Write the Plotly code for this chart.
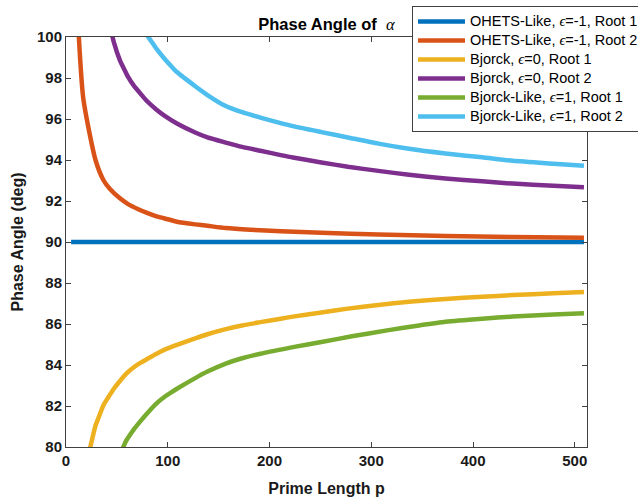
import plotly.graph_objects as go

# ---- data ----
p_ohets_r1 = [5, 509]
y_ohets_r1 = [90.0, 90.0]

p_ohets_r2 = [11, 17, 29, 37, 43, 53, 61, 71, 79, 89, 101, 109, 127, 139, 157,
              181, 211, 251, 307, 373, 439, 509]
y_ohets_r2 = [101.5, 97.0, 94.0, 93.0, 92.6, 92.13, 91.85, 91.6, 91.43, 91.25,
              91.1, 90.99, 90.86, 90.79, 90.68, 90.6, 90.53, 90.45, 90.37,
              90.29, 90.24, 90.21]

p_bjorck_r1 = [23, 29, 31, 37, 41, 47, 53, 59, 67, 73, 79, 89, 97, 109, 127,
               139, 157, 173, 191, 211, 223, 251, 277, 307, 337, 373, 409, 439,
               479, 509]
y_bjorck_r1 = [79.8, 81.05, 81.3, 82.06, 82.38, 82.84, 83.22, 83.57, 83.9,
               84.1, 84.27, 84.55, 84.75, 84.98, 85.3, 85.5, 85.75, 85.93,
               86.09, 86.26, 86.36, 86.56, 86.75, 86.93, 87.08, 87.22, 87.33,
               87.41, 87.5, 87.56]

p_bjorck_r2 = [43, 47, 53, 59, 61, 67, 73, 79, 89, 97, 109, 127, 139, 157, 173,
               191, 211, 223, 251, 277, 307, 337, 373, 409, 439, 479, 509]
y_bjorck_r2 = [100.6, 99.75, 98.86, 98.25, 98.05, 97.6, 97.25, 96.9, 96.45,
               96.15, 95.78, 95.34, 95.1, 94.85, 94.64, 94.45, 94.24, 94.12,
               93.88, 93.67, 93.47, 93.28, 93.1, 92.96, 92.85, 92.74, 92.67]

p_like_r1 = [53, 59, 61, 67, 73, 79, 83, 89, 97, 103, 109, 127, 139, 157, 173,
             191, 211, 223, 251, 281, 317, 347, 373, 409, 439, 479, 509]
y_like_r1 = [79.6, 80.3, 80.45, 80.88, 81.25, 81.6, 81.82, 82.13, 82.45,
             82.65, 82.84, 83.36, 83.68, 84.07, 84.33, 84.55, 84.75, 84.87,
             85.12, 85.4, 85.7, 85.93, 86.11, 86.26, 86.36, 86.46, 86.52]

p_like_r2 = [79, 83, 89, 97, 103, 109, 127, 139, 157, 173, 191, 211, 223, 251,
             277, 307, 337, 373, 409, 439, 479, 509]
y_like_r2 = [100.13, 99.85, 99.42, 98.93, 98.6, 98.29, 97.6, 97.17, 96.63,
             96.33, 96.07, 95.8, 95.65, 95.36, 95.1, 94.8, 94.55, 94.32,
             94.13, 93.96, 93.82, 93.72]

eps = '<span style="font-family:Liberation Serif"><i>ϵ</i></span>'
labels = [
    f"OHETS-Like, {eps}=-1, Root 1",
    f"OHETS-Like, {eps}=-1, Root 2",
    f"Bjorck, {eps}=0, Root 1",
    f"Bjorck, {eps}=0, Root 2",
    f"Bjorck-Like, {eps}=1, Root 1",
    f"Bjorck-Like, {eps}=1, Root 2",
]
names = [f'<span style="font-size:14.5px">{t}</span>' for t in labels]
xs = [p_ohets_r1, p_ohets_r2, p_bjorck_r1, p_bjorck_r2, p_like_r1, p_like_r2]
ys = [y_ohets_r1, y_ohets_r2, y_bjorck_r1, y_bjorck_r2, y_like_r1, y_like_r2]
colors = ["#0072BD", "#D95319", "#EDB120", "#7E2F8E", "#77AC30", "#4DBEEE"]

fig = go.Figure()
for x, y, n, c in zip(xs, ys, names, colors):
    fig.add_trace(go.Scatter(x=x, y=y, name=n, mode="lines", hoverinfo="skip",
                             line=dict(color=c, width=4.5, shape="spline",
                                       smoothing=0.6)))

axis_common = dict(
    showline=True, linecolor="#404040", linewidth=1, mirror="ticks",
    ticks="inside", ticklen=5, tickcolor="#404040", showgrid=False,
    zeroline=False, automargin=False,
    tickfont=dict(family="Liberation Sans", size=15, color="#1a1a1a", weight="bold"),
)

# body margin is removed by the post_script, so the figure fills the window
W, H = 638, 498
L, T, R, B = 66, 37, 51, 51
plot_h = H - T - B

fig.update_layout(
    width=W, height=H,
    margin=dict(l=L, r=R, t=T, b=B, autoexpand=False),
    paper_bgcolor="white", plot_bgcolor="white",
    title=dict(
        text='<b>Phase Angle of</b>  <span style="font-family:Liberation Serif"><i>α</i></span>',
        x=0.5, xref="paper", xanchor="center",
        y=1 - 24 / H, yref="container", yanchor="middle",
        font=dict(family="Liberation Sans", size=16.5, color="black"),
    ),
    xaxis=dict(range=[0, 512], tickvals=[0, 100, 200, 300, 400, 500],
               title=dict(text="Prime Length p", standoff=14,
                          font=dict(family="Liberation Sans", size=16,
                                    color="#1a1a1a", weight="bold")),
               **axis_common),
    yaxis=dict(range=[80, 100], tickvals=list(range(80, 101, 2)),
               title=dict(text="Phase Angle (deg)", standoff=9,
                          font=dict(family="Liberation Sans", size=16,
                                    color="#1a1a1a", weight="bold")),
               **axis_common),
    legend=dict(
        x=(412 - L) / (W - L - R), y=1 + (T - 6) / plot_h,
        xanchor="left", yanchor="top",
        bgcolor="white", bordercolor="#404040", borderwidth=1,
        font=dict(family="Liberation Sans", size=12.2, color="black"),
        itemwidth=47, tracegroupgap=0,
    ),
    showlegend=True,
    hovermode=False,
)

fig.write_html(
    "out.html",
    config={"displayModeBar": False},
    post_script="document.body.style.margin='0';document.body.style.overflow='hidden';",
)
